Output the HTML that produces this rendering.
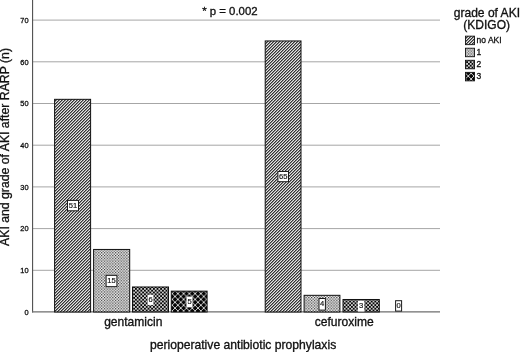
<!DOCTYPE html>
<html><head><meta charset="utf-8"><title>chart</title>
<style>
html,body{margin:0;padding:0;background:#fff;}
body{width:520px;height:352px;overflow:hidden;}
svg{display:block;font-family:"Liberation Sans",sans-serif;}
</style></head><body>
<svg width="520" height="352" viewBox="0 0 520 352">
<defs>
<pattern id="h" width="3" height="3" patternUnits="userSpaceOnUse">
<rect width="3" height="3" fill="#fff"/>
<path d="M0.250 -3L-3 0.250M3.250 -3L-3 3.250M6.250 -3L-3 6.250M9.250 -3L-3 9.250" stroke="#141414" stroke-width="1.06"/>
</pattern>
<pattern id="d1" width="2.8" height="2.8" patternUnits="userSpaceOnUse" x="0.3" y="0.2">
<rect width="2.8" height="2.8" fill="#fff"/>
<rect x="0" y="0" width="1.22" height="1.22" fill="#262626"/>
<rect x="1.4" y="1.4" width="1.22" height="1.22" fill="#262626"/>
</pattern>
<pattern id="d2" width="3.6" height="3.6" patternUnits="userSpaceOnUse">
<rect width="3.6" height="3.6" fill="#050505"/>
<rect x="0.1" y="0.1" width="1.6" height="1.6" fill="#fff"/>
<rect x="1.9" y="1.9" width="1.6" height="1.6" fill="#fff"/>
</pattern>
<pattern id="x" width="5.75" height="5.8" patternUnits="userSpaceOnUse" x="2.5" y="0.7">
<rect width="5.8" height="5.8" fill="#050505"/>
<path d="M0 0L5.75 5.8M5.75 0L0 5.8" stroke="#f0f0f0" stroke-width="0.85"/>
</pattern>
</defs>
<rect width="520" height="352" fill="#fff"/>

<line x1="33" y1="270.30" x2="440" y2="270.30" stroke="#a6a6a6" stroke-width="1"/>
<line x1="33" y1="228.60" x2="440" y2="228.60" stroke="#a6a6a6" stroke-width="1"/>
<line x1="33" y1="186.90" x2="440" y2="186.90" stroke="#a6a6a6" stroke-width="1"/>
<line x1="33" y1="145.20" x2="440" y2="145.20" stroke="#a6a6a6" stroke-width="1"/>
<line x1="33" y1="103.50" x2="440" y2="103.50" stroke="#a6a6a6" stroke-width="1"/>
<line x1="33" y1="61.80" x2="440" y2="61.80" stroke="#a6a6a6" stroke-width="1"/>
<line x1="33" y1="20.10" x2="440" y2="20.10" stroke="#a6a6a6" stroke-width="1"/>
<text x="28.6" y="314.80" font-size="7.4" text-anchor="end" fill="#111" stroke="#111" stroke-width="0.3">0</text>
<text x="28.6" y="273.10" font-size="7.4" text-anchor="end" fill="#111" stroke="#111" stroke-width="0.3">10</text>
<text x="28.6" y="231.40" font-size="7.4" text-anchor="end" fill="#111" stroke="#111" stroke-width="0.3">20</text>
<text x="28.6" y="189.70" font-size="7.4" text-anchor="end" fill="#111" stroke="#111" stroke-width="0.3">30</text>
<text x="28.6" y="148.00" font-size="7.4" text-anchor="end" fill="#111" stroke="#111" stroke-width="0.3">40</text>
<text x="28.6" y="106.30" font-size="7.4" text-anchor="end" fill="#111" stroke="#111" stroke-width="0.3">50</text>
<text x="28.6" y="64.60" font-size="7.4" text-anchor="end" fill="#111" stroke="#111" stroke-width="0.3">60</text>
<text x="28.6" y="22.90" font-size="7.4" text-anchor="end" fill="#111" stroke="#111" stroke-width="0.3">70</text>
<line x1="32.6" y1="0" x2="32.6" y2="312.5" stroke="#484848" stroke-width="1.05"/>
<line x1="32.1" y1="311.8" x2="440" y2="311.8" stroke="#6e6e6e" stroke-width="1.15"/>
<rect x="54.60" y="99.33" width="36.00" height="212.67" fill="url(#h)" />
<rect x="54.60" y="99.33" width="36.00" height="212.67" fill="none" stroke="#111" stroke-width="1"/>
<rect x="93.60" y="249.45" width="36.10" height="62.55" fill="url(#d1)" />
<rect x="93.60" y="249.45" width="36.10" height="62.55" fill="none" stroke="#111" stroke-width="1"/>
<rect x="132.50" y="286.98" width="36.00" height="25.02" fill="url(#d2)" />
<rect x="132.50" y="286.98" width="36.00" height="25.02" fill="none" stroke="#111" stroke-width="1"/>
<rect x="171.30" y="291.15" width="35.80" height="20.85" fill="url(#x)" />
<rect x="171.30" y="291.15" width="35.80" height="20.85" fill="none" stroke="#111" stroke-width="1"/>
<rect x="265.20" y="40.95" width="35.80" height="271.05" fill="url(#h)" />
<rect x="265.20" y="40.95" width="35.80" height="271.05" fill="none" stroke="#111" stroke-width="1"/>
<rect x="304.10" y="295.32" width="35.80" height="16.68" fill="url(#d1)" />
<rect x="304.10" y="295.32" width="35.80" height="16.68" fill="none" stroke="#111" stroke-width="1"/>
<rect x="343.00" y="299.49" width="36.30" height="12.51" fill="url(#d2)" />
<rect x="343.00" y="299.49" width="36.30" height="12.51" fill="none" stroke="#111" stroke-width="1"/>
<rect x="67.50" y="200.40" width="11" height="10.4" fill="#fff" stroke="#1a1a1a" stroke-width="1"/>
<text x="73.00" y="207.70" font-size="7.6" text-anchor="middle" fill="#111" stroke="#111" stroke-width="0.18">51</text>
<rect x="106.10" y="275.35" width="10.8" height="11.3" fill="#fff" stroke="#1a1a1a" stroke-width="1"/>
<text x="111.50" y="283.10" font-size="7.6" text-anchor="middle" fill="#111" stroke="#111" stroke-width="0.18">15</text>
<rect x="147.50" y="294.70" width="6.1" height="10.4" fill="#fff" stroke="#555" stroke-width="0.3"/>
<text x="150.55" y="302.00" font-size="7.6" text-anchor="middle" fill="#111" stroke="#111" stroke-width="0.18">6</text>
<rect x="186.30" y="296.45" width="6.4" height="10.9" fill="#fff" stroke="#555" stroke-width="0.3"/>
<text x="189.50" y="304.00" font-size="7.6" text-anchor="middle" fill="#111" stroke="#111" stroke-width="0.18">5</text>
<rect x="277.90" y="171.50" width="10.6" height="10.2" fill="#fff" stroke="#1a1a1a" stroke-width="1"/>
<text x="283.20" y="178.70" font-size="7.6" text-anchor="middle" fill="#111" stroke="#111" stroke-width="0.18">65</text>
<rect x="319.00" y="298.50" width="6.4" height="11.6" fill="#fff" stroke="#1a1a1a" stroke-width="1"/>
<text x="322.20" y="306.40" font-size="7.6" text-anchor="middle" fill="#111" stroke="#111" stroke-width="0.18">4</text>
<rect x="357.85" y="300.60" width="6.6" height="11.2" fill="#fff" stroke="#555" stroke-width="0.3"/>
<text x="361.15" y="308.30" font-size="7.6" text-anchor="middle" fill="#111" stroke="#111" stroke-width="0.18">3</text>
<rect x="395.60" y="300.70" width="6" height="10.4" fill="#fff" stroke="#1a1a1a" stroke-width="1"/>
<text x="398.60" y="308.00" font-size="7.6" text-anchor="middle" fill="#111" stroke="#111" stroke-width="0.18">0</text>
<text x="202.2" y="15.4" font-size="11.4" fill="#111" stroke="#111" stroke-width="0.32">* p = 0.002</text>
<text x="133.3" y="326" font-size="12.05" text-anchor="middle" fill="#111" stroke="#111" stroke-width="0.32">gentamicin</text>
<text x="344.2" y="326" font-size="12.05" text-anchor="middle" fill="#111" stroke="#111" stroke-width="0.32">cefuroxime</text>
<text x="243.1" y="349.1" font-size="12.15" text-anchor="middle" fill="#111" stroke="#111" stroke-width="0.32">perioperative antibiotic prophylaxis</text>
<text transform="translate(9.3,147) rotate(-90)" font-size="12.25" text-anchor="middle" fill="#111" stroke="#111" stroke-width="0.32">AKI and grade of AKI after RARP (n)</text>
<text x="486.9" y="16.9" font-size="12.05" text-anchor="middle" fill="#111" stroke="#111" stroke-width="0.32">grade of AKI</text>
<text x="486.7" y="28.9" font-size="12" text-anchor="middle" fill="#111" stroke="#111" stroke-width="0.32">(KDIGO)</text>
<rect x="465.5" y="36.15" width="9.0" height="8.5" fill="url(#h)" stroke="#111" stroke-width="0.9"/>
<text x="476.6" y="42.70" font-size="8.5" fill="#111" stroke="#111" stroke-width="0.3">no AKI</text>
<rect x="465.5" y="48.22" width="9.0" height="8.5" fill="url(#d1)" stroke="#111" stroke-width="0.9"/>
<text x="476.6" y="54.77" font-size="8.5" fill="#111" stroke="#111" stroke-width="0.3">1</text>
<rect x="465.5" y="60.29" width="9.0" height="8.5" fill="url(#d2)" stroke="#111" stroke-width="0.9"/>
<text x="476.6" y="66.84" font-size="8.5" fill="#111" stroke="#111" stroke-width="0.3">2</text>
<rect x="465.5" y="72.36" width="9.0" height="8.5" fill="url(#x)" stroke="#111" stroke-width="0.9"/>
<text x="476.6" y="78.91" font-size="8.5" fill="#111" stroke="#111" stroke-width="0.3">3</text>
</svg></body></html>
